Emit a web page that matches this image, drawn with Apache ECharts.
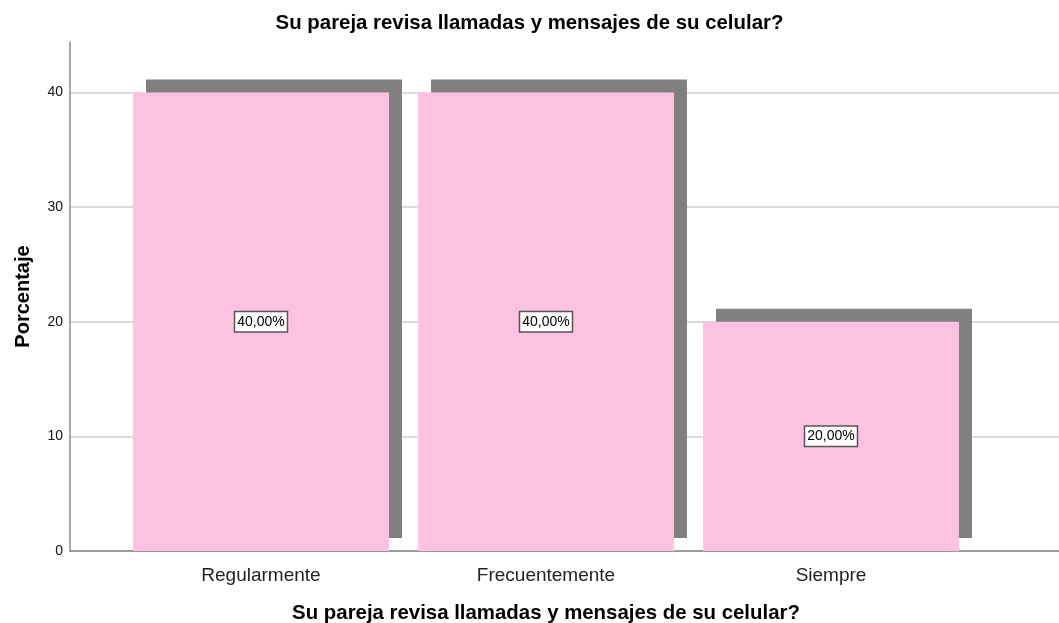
<!DOCTYPE html>
<html>
<head>
    <meta charset="utf-8">
    <script src="https://cdn.jsdelivr.net/npm/echarts@6/dist/echarts.min.js"></script>
    <style>
        html, body { margin: 0; padding: 0; background: #fff; }
        #chart { width: 1059px; height: 623px; }
    </style>
</head>
<body>
<div id="chart"></div>
<script type="text/javascript">
    // datos
    var titulo = 'Su pareja revisa llamadas y mensajes de su celular?';
    var categorias = ['Regularmente', 'Frecuentemente', 'Siempre'];
    var porcentajes = [40, 40, 20];
    var ticksY = [0, 10, 20, 30, 40];

    var fuente = 'Arial, "Liberation Sans", sans-serif';
    var yMax = 44.4;

    var myChart = echarts.init(document.getElementById('chart'), null, { renderer: 'canvas' });

    var option = {
        backgroundColor: '#fff',
        animation: false,
        title: {
            text: titulo,
            left: 'center',
            top: 13,
            padding: 0,
            textStyle: { fontFamily: fuente, fontSize: 20.4, fontWeight: 'bold', color: '#000' }
        },
        grid: [
            // eje Y y lineas de cuadricula
            { left: 70, right: 0, top: 42, bottom: 72, outerBoundsMode: 'none', containLabel: false },
            // barras
            { left: 118.5, right: 85.5, top: 42, bottom: 72, outerBoundsMode: 'none', containLabel: false }
        ],
        xAxis: [
            {
                gridIndex: 0, type: 'value', min: 0, max: 1,
                axisLine: { show: true, lineStyle: { color: '#7a7a7a', width: 1.5 } },
                axisTick: { show: false }, axisLabel: { show: false }, splitLine: { show: false }
            },
            {
                gridIndex: 1, type: 'category', data: categorias,
                name: titulo, nameLocation: 'middle', nameGap: 52,
                nameTextStyle: { fontFamily: fuente, fontSize: 20.4, fontWeight: 'bold', color: '#000' },
                axisLine: { show: false }, axisTick: { show: false },
                axisLabel: { fontFamily: fuente, fontSize: 19, color: '#222', margin: 15 }
            }
        ],
        yAxis: [
            {
                gridIndex: 0, type: 'value', min: 0, max: yMax, interval: 10,
                name: 'Porcentaje', nameLocation: 'middle', nameGap: 37,
                nameTextStyle: { fontFamily: fuente, fontSize: 20, fontWeight: 'bold', color: '#000' },
                axisLine: { show: true, lineStyle: { color: '#8a8a8a', width: 1.5 } },
                axisTick: { show: false },
                axisLabel: {
                    fontFamily: fuente, fontSize: 14, color: '#111', margin: 7,
                    formatter: function (v) { return ticksY.indexOf(v) >= 0 ? String(v) : ''; }
                },
                splitLine: { show: true, showMinLine: false, showMaxLine: false, lineStyle: { color: '#cfcfcf', width: 1.5 } }
            },
            {
                gridIndex: 1, type: 'value', min: 0, max: yMax, show: false
            }
        ],
        series: [
            {
                type: 'bar',
                xAxisIndex: 1,
                yAxisIndex: 1,
                data: porcentajes,
                barWidth: 256,
                itemStyle: {
                    color: '#fdc2e2',
                    shadowColor: '#808080',
                    shadowBlur: 0,
                    shadowOffsetX: 13,
                    shadowOffsetY: -13
                },
                label: {
                    show: true,
                    position: 'inside',
                    formatter: function (p) { return p.value.toFixed(2).replace('.', ',') + '%'; },
                    fontFamily: fuente, fontSize: 14, color: '#000',
                    backgroundColor: '#fff', borderColor: '#555', borderWidth: 1.5,
                    padding: [3, 2, 2, 2]
                }
            }
        ]
    };
    myChart.setOption(option);
</script>
</body>
</html>
